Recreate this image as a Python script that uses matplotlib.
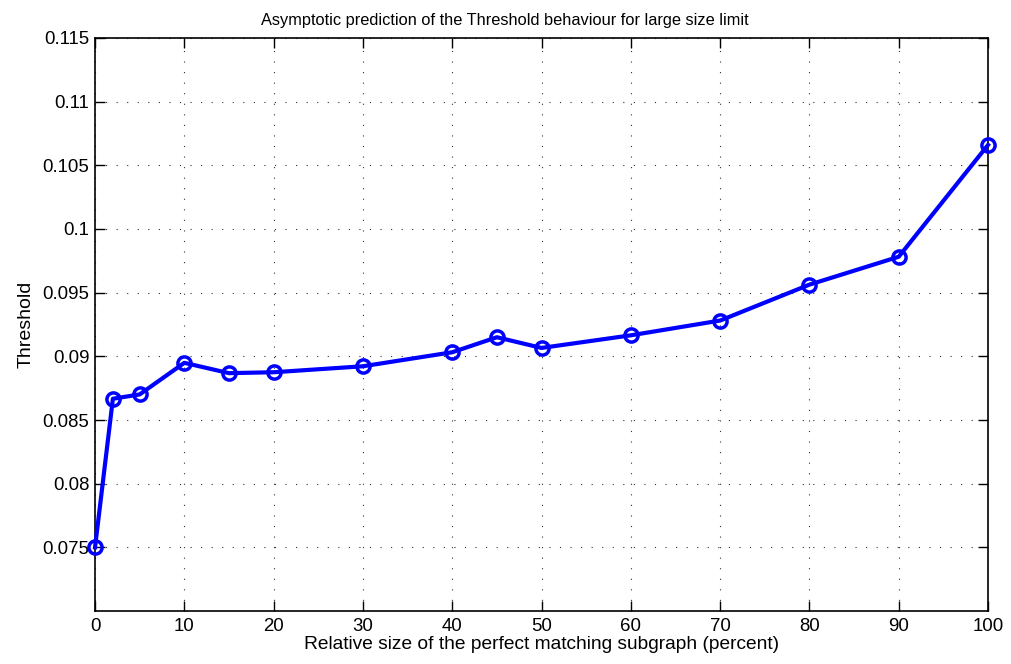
import matplotlib
matplotlib.use("Agg")
import matplotlib.pyplot as plt

x_percent = [0, 2, 5, 10, 15, 20, 30, 40, 45, 50, 60, 70, 80, 90, 100]
threshold = [0.0750, 0.08667, 0.08701, 0.08949, 0.08868, 0.08875, 0.08922,
             0.09032, 0.0915, 0.09066, 0.09165, 0.09281, 0.09563, 0.09782, 0.1066]
x_ticks = [0, 10, 20, 30, 40, 50, 60, 70, 80, 90, 100]
y_ticks = [0.075, 0.08, 0.085, 0.09, 0.095, 0.1, 0.105, 0.11, 0.115]
y_tick_labels = ["0.075", "0.08", "0.085", "0.09", "0.095", "0.1", "0.105", "0.11", "0.115"]

plt.rcParams['font.family'] = ['Liberation Sans', 'DejaVu Sans']

fig = plt.figure(figsize=(10.12, 6.64), dpi=100)
ax = fig.add_axes([0.0939, 0.0798, 0.8824, 0.863])

ax.plot(x_percent, threshold, color='#0000ff', linewidth=3, marker='o',
        markersize=9.5, markerfacecolor='none', markeredgewidth=2.5,
        markeredgecolor='#0000ff', zorder=3, clip_on=False)

ax.set_xlim(0, 100)
ax.set_ylim(0.07, 0.115)
ax.set_xticks(x_ticks)
ax.set_xticklabels([str(t) for t in x_ticks])
ax.set_yticks(y_ticks)
ax.set_yticklabels(y_tick_labels)

ax.grid(True, color='#333333', linewidth=0.8, linestyle=(0, (1, 8.5)))
ax.tick_params(direction='in', length=7, width=1, top=True, right=True,
               colors='black', labelsize=13.4)
ax.tick_params(axis='x', pad=5)
ax.tick_params(axis='y', pad=4)
for s in ax.spines.values():
    s.set_linewidth(1.2)
    s.set_color('black')

ax.set_title('Asymptotic prediction of the Threshold behaviour for large size limit',
             fontsize=11.8, x=0.459, pad=9)
ax.set_xlabel('Relative size of the perfect matching subgraph (percent)', fontsize=13.8, labelpad=1)
ax.set_ylabel('Threshold', fontsize=14, labelpad=6)

fig.savefig('out.png', dpi=100)
